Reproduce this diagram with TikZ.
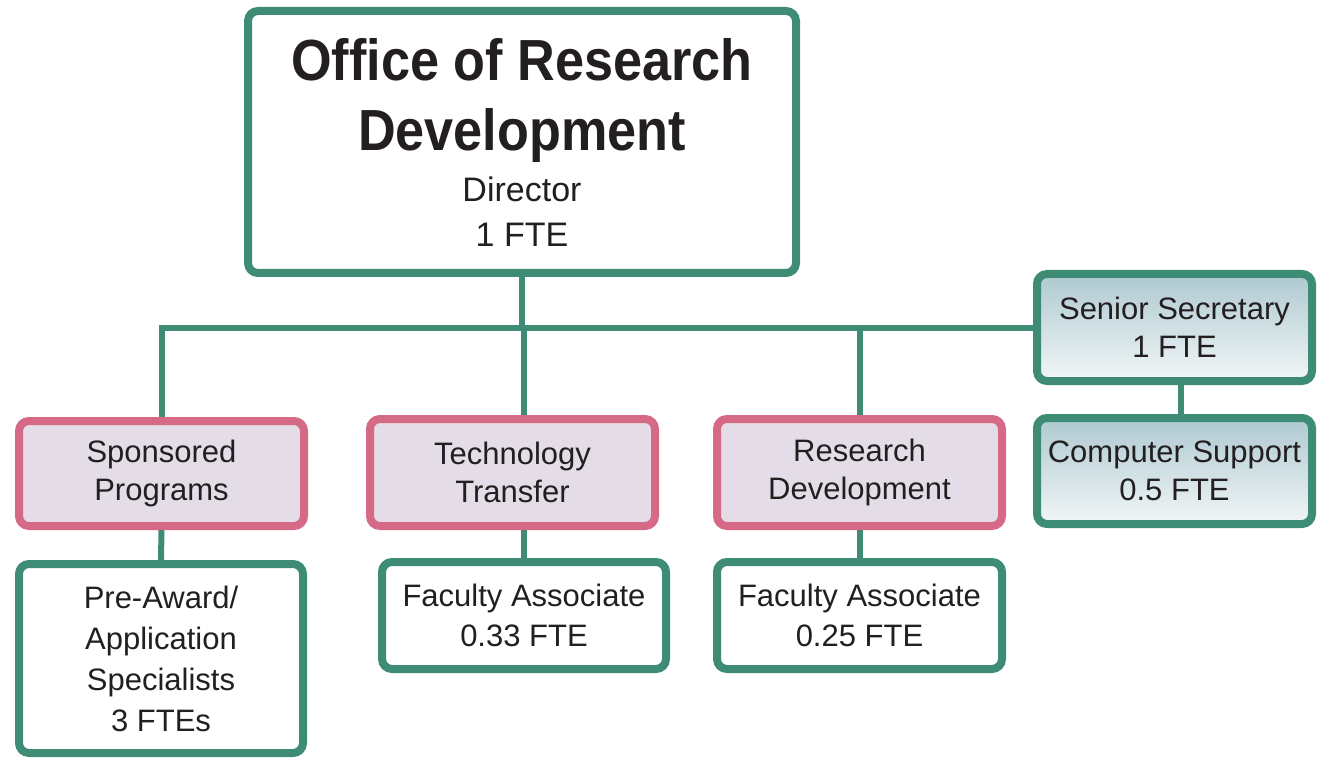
\documentclass[tikz,border=0pt]{standalone}
\usepackage{fontspec}
\setmainfont{Liberation Sans}
\newfontfamily\titlefam[FakeStretch=0.9]{Liberation Sans}
\usetikzlibrary{backgrounds}
\definecolor{teal}{HTML}{3E8C76}
\definecolor{rose}{HTML}{D66A86}
\definecolor{rosefill}{HTML}{E4DCE6}
\definecolor{bluetop}{HTML}{AEC9D0}
\definecolor{bluebot}{HTML}{F1F6F7}
\definecolor{ink}{HTML}{231F20}
\begin{document}
\begin{tikzpicture}[x=1pt,y=-1pt,
  box/.style={draw=teal, line width=8pt, rounded corners=10pt, fill=white,
    align=center, inner sep=0pt, text=ink, font=\fontsize{31}{38}\selectfont},
  pinkbox/.style={box, draw=rose, fill=rosefill},
  bluebox/.style={box, top color=bluetop, bottom color=bluebot},
  conn/.style={draw=teal, line width=6pt}]
\useasboundingbox (0,0) rectangle (1317,759);

\node[box, font=\fontsize{58}{70}\selectfont, minimum width=548pt, minimum height=262pt] (top) at (522,142)
  {{\titlefam\bfseries Office of Research}\\{\titlefam\bfseries Development}\\[-19pt]{\fontsize{34}{40}\selectfont Director}\\[-25pt]{\fontsize{34}{40}\selectfont 1 FTE}};

\node[bluebox, minimum width=275pt, minimum height=107pt] (secretary) at (1174.5,327.5)
  {Senior Secretary\\1 FTE};
\node[bluebox, minimum width=275pt, minimum height=106pt] (computer) at (1174.5,471)
  {Computer Support\\0.5 FTE};

\node[pinkbox, minimum width=285pt, minimum height=105pt] (sponsored) at (161.5,473.5)
  {Sponsored\\Programs};
\node[pinkbox, minimum width=285pt, minimum height=107pt] (tech) at (512.5,472.5)
  {Technology\\Transfer};
\node[pinkbox, minimum width=285pt, minimum height=107pt] (resdev) at (859.5,472.5)
  {Research\\Development};

\node[box, font=\fontsize{31}{41}\selectfont, minimum width=284pt, minimum height=189pt] (preaward) at (161,658.5)
  {Pre-Award/\\Application\\Specialists\\3 FTEs};
\node[box, font=\fontsize{31}{40}\selectfont, minimum width=284pt, minimum height=107pt] (fac33) at (524,615.5)
  {Faculty Associate\\0.33 FTE};
\node[box, font=\fontsize{31}{40}\selectfont, minimum width=285pt, minimum height=107pt] (fac25) at (859.5,615.5)
  {Faculty Associate\\0.25 FTE};

\begin{scope}[on background layer]
  \draw[conn] (sponsored.north) |- (secretary.west);
  \draw[conn] (top.south) -- (top.south |- secretary.west);
  \draw[conn] (fac33.north) -- (fac33.north |- secretary.west);
  \draw[conn] (resdev.north) -- (resdev.north |- secretary.west);
  \draw[conn] (sponsored.south) -- (preaward.north);
  \draw[conn] (resdev.south) -- (fac25.north);
  \draw[conn] ([xshift=6pt]secretary.south) -- ([xshift=6pt]computer.north);
\end{scope}
\end{tikzpicture}
\end{document}
